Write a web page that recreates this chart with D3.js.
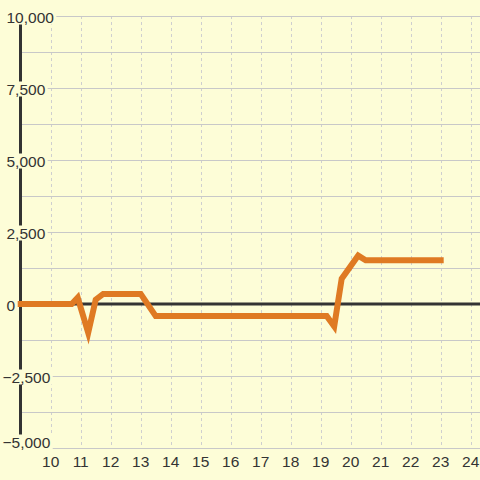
<!DOCTYPE html>
<html><head><meta charset="utf-8">
<script src="https://cdn.jsdelivr.net/npm/d3@7"></script>
<style>html,body{margin:0;padding:0;background:#fdfdd7;}svg{display:block;}</style>
</head><body>
<svg id="c" width="480" height="480"></svg>
<script>
const xValues = [9, 10.7, 10.9, 11.25, 11.5, 11.75, 13, 13.5, 19.2, 19.45, 19.7, 20.25, 20.5, 23];
const yValues = [0, 0, 220, -1000, 150, 350, 350, -420, -420, -780, 880, 1680, 1520, 1520];
const xTicks = [10,11,12,13,14,15,16,17,18,19,20,21,22,23,24];
const yTicks = [10000, 7500, 5000, 2500, 0, -2500, -5000];
const yGrid = d3.range(-5000, 10001, 1250);

const bg = "#fdfdd7";
const svg = d3.select("#c");
svg.append("rect").attr("width",480).attr("height",480).attr("fill",bg);

const x = d3.scaleLinear().domain([9, 24]).range([20.7, 470.7]);
const y = d3.scaleLinear().domain([-5000, 10000]).range([448, 16]);
const yTop = y(10000), yBot = y(-5000);

// vertical dotted grid
svg.append("g").selectAll("line").data(xTicks).join("line")
  .attr("x1", d=>Math.round(x(d))+0.5).attr("x2", d=>Math.round(x(d))+0.5)
  .attr("y1", yTop).attr("y2", yBot)
  .attr("stroke","#cfcfcf").attr("stroke-width",1).attr("stroke-dasharray","3,3");

// horizontal grid
svg.append("g").selectAll("line").data(yGrid.filter(v=>v!==0)).join("line")
  .attr("x1", 20).attr("x2", 480)
  .attr("y1", d=>Math.round(y(d))+0.5).attr("y2", d=>Math.round(y(d))+0.5)
  .attr("stroke","#c8c8c8").attr("stroke-width",1);

// y axis line
svg.append("line").attr("x1",20.5).attr("x2",20.5).attr("y1",yTop).attr("y2",yBot)
  .attr("stroke","#333").attr("stroke-width",3);
// zero line
svg.append("line").attr("x1",19).attr("x2",480).attr("y1",y(0)).attr("y2",y(0))
  .attr("stroke","#333").attr("stroke-width",3);

// y labels with background
const font = "'Liberation Sans', Arial, sans-serif";
const fmt = d3.format(",");
const yl = svg.append("g");
yTicks.forEach(v=>{
  const ty = Math.min(y(v)+1, 442);
  const tx = v < 0 ? 2.5 : 6.5;
  const t = yl.append("text").attr("x", tx).attr("y", ty)
    .attr("dominant-baseline","central")
    .attr("font-family", font).attr("font-size", 15.5).attr("fill","#333")
    .text(fmt(v));
  const bb = t.node().getBBox();
  yl.insert("rect","text").attr("x", bb.x-1).attr("y", ty-7.5)
    .attr("width", bb.width+3).attr("height", 15).attr("fill", bg);
});
yl.selectAll("text").raise();

// x labels
svg.append("g").selectAll("text").data(xTicks).join("text")
  .attr("x", d=>x(d)).attr("y", 461)
  .attr("text-anchor","middle").attr("dominant-baseline","central")
  .attr("font-family", font).attr("font-size", 15.5).attr("fill","#333")
  .text(d=>d);

// series line
const pts = xValues.map((v,i)=>[v, yValues[i]]);
const line = d3.line().x(d=>x(d[0])).y(d=>y(d[1]));
svg.append("path").attr("d", line(pts)).attr("fill","none")
  .attr("stroke","#df7a23").attr("stroke-width",6)
  .attr("stroke-linejoin","miter").attr("stroke-linecap","square");
</script>
</body></html>
